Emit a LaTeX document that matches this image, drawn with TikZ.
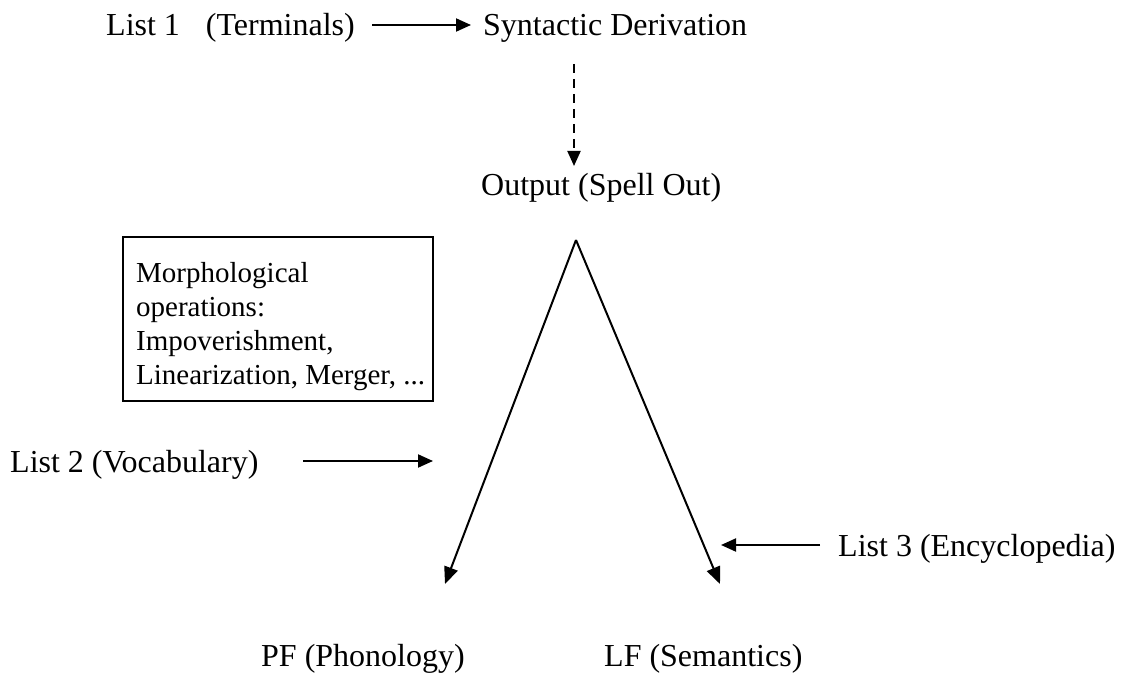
\documentclass[tikz,border=0pt]{standalone}
\usepackage{fontspec}
\setmainfont{Liberation Serif}
\usetikzlibrary{arrows.meta}
\begin{document}
\begin{tikzpicture}[x=1pt,y=-1pt,
  lbl/.style={inner sep=0pt,anchor=base west,font=\fontsize{32}{33}\selectfont},
  boxtext/.style={inner sep=0pt,anchor=north west,align=left,font=\fontsize{29}{34}\selectfont},
  conn/.style={line width=2pt,-{Triangle[length=15pt,width=13pt]}},
  leg/.style={line width=2pt,-{Triangle[length=17pt,width=14pt]}}]
\useasboundingbox (0,0) rectangle (1122,679);
% top row
\node[lbl] (l1) at (106,36) {List 1\hspace{26pt}(Terminals)};
\node[lbl] (sd) at (483,36) {Syntactic Derivation};
\coordinate (l1e) at (372,25);
\coordinate (sdw) at (471,25);
\draw[conn] (l1e) -- (sdw);
% spell-out
\node[lbl] (out) at (481,196) {Output (Spell Out)};
\coordinate (dtop) at (574,64);
\coordinate (dbot) at (574,166);
\draw[conn,dash pattern=on 9pt off 6pt] (dtop) -- (dbot);
% branching into PF and LF
\coordinate (apex) at (576,240);
\coordinate (pftip) at (445,584);
\coordinate (lftip) at (720,584);
\draw[leg] (apex) -- (pftip);
\draw[leg] (apex) -- (lftip);
\node[lbl] (pf) at (261,666) {PF (Phonology)};
\node[lbl] (lf) at (604,666) {LF (Semantics)};
% morphology box
\node[draw,line width=2pt,inner sep=0pt,minimum width=310pt,minimum height=164pt,anchor=north west] (box) at (122,236) {};
\node[boxtext] (ops) at (136,262)
  {Morphological\\operations:\\Impoverishment,\\Linearization, Merger, ...};
% vocabulary and encyclopedia
\node[lbl] (l2) at (10,472) {List 2 (Vocabulary)};
\coordinate (l2a) at (303,461);
\coordinate (l2b) at (433,461);
\draw[conn] (l2a) -- (l2b);
\node[lbl] (l3) at (838,556) {List 3 (Encyclopedia)};
\coordinate (l3a) at (820,545);
\coordinate (l3b) at (721,545);
\draw[conn] (l3a) -- (l3b);
\end{tikzpicture}
\end{document}
